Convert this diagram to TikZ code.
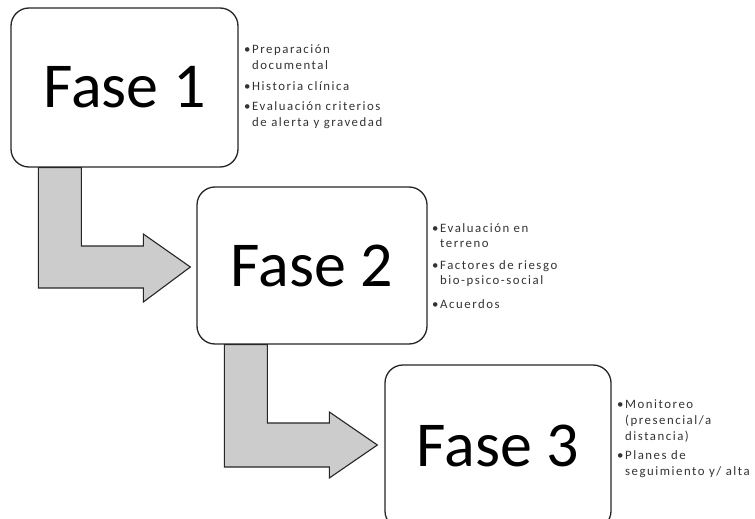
\documentclass[tikz,border=0pt]{standalone}
\usepackage{fontspec}
\setmainfont{Carlito}
\newfontfamily\notefont[LetterSpace=12]{Carlito}
\usetikzlibrary{calc}
\newcommand\itembul{\makebox[8pt][l]{•}}
\newcommand\itemind{\hspace*{8pt}}
\begin{document}
\begin{tikzpicture}[x=1pt,y=-1pt,
  phase/.style={draw=black!85, line width=1.3pt, rounded corners=18pt, fill=white,
    inner sep=0pt, font=\fontsize{64}{70}\selectfont},
  blockarrow/.style={draw=black!85, line width=1.1pt, fill=black!20, line join=miter},
  notes/.style={anchor=base west, align=left, inner sep=0pt, text=black!80,
    font=\notefont\fontsize{12.8}{16}\selectfont}
]
\clip (0,0) rectangle (755,519);
\fill[white] (0,0) rectangle (755,519);

% phase boxes
\node[phase, minimum width=227pt, minimum height=159pt] (b1) at (124.5,87.5) {Fase 1};
\node[phase, minimum width=230pt, minimum height=157pt] (b2) at (312,265.5) {Fase 2};
\node[phase, minimum width=226pt, minimum height=164pt] (b3) at (498,447) {\raisebox{3pt}{Fase 3}};

% bent block arrow from phase 1 to phase 2
\coordinate (s1l) at ($(b1.south west)+(28,0)$);
\coordinate (s1r) at ($(s1l)+(43,0)$);
\coordinate (t1) at ($(b2.west)+(-6,1.5)$);
\coordinate (h1a) at ($(t1)+(-47,21)$);
\coordinate (h1b) at ($(t1)+(-47,35)$);
\coordinate (h1c) at ($(t1)+(-47,-33)$);
\coordinate (h1d) at ($(t1)+(-47,-21)$);
\draw[blockarrow] (s1l) -- (s1l |- h1a) -- (h1a) -- (h1b) -- (t1) -- (h1c) -- (h1d)
  -- (s1r |- h1d) -- (s1r) -- cycle;

% bent block arrow from phase 2 to phase 3
\coordinate (s2l) at ($(b2.south west)+(28,0)$);
\coordinate (s2r) at ($(s2l)+(43,0)$);
\coordinate (t2) at ($(b3.west)+(-7,-2)$);
\coordinate (h2a) at ($(t2)+(-48,22)$);
\coordinate (h2b) at ($(t2)+(-48,33)$);
\coordinate (h2c) at ($(t2)+(-48,-33)$);
\coordinate (h2d) at ($(t2)+(-48,-22)$);
\draw[blockarrow] (s2l) -- (s2l |- h2a) -- (h2a) -- (h2b) -- (t2) -- (h2c) -- (h2d)
  -- (s2r |- h2d) -- (s2r) -- cycle;

% bullet notes (anchored at the baseline of their last line)
\node[notes] (n1) at (244,126) {\itembul Preparación\\ \itemind documental\\[5pt]
  \itembul Historia clínica\\[4pt]
  \itembul Evaluación criterios\\ \itemind de alerta y gravedad};
\node[notes, font=\notefont\fontsize{12.8}{15}\selectfont] (n2) at (432,308)
  {\itembul Evaluación en\\ \itemind terreno\\[7pt]
  \itembul Factores de riesgo\\ \itemind bio-psico-social\\[9pt]
  \itembul Acuerdos};
\node[notes] (n3) at (617,475) {\itembul Monitoreo\\ \itemind (presencial/a\\ \itemind distancia)\\[3pt]
  \itembul Planes de\\ \itemind seguimiento y/ alta};
\end{tikzpicture}
\end{document}
